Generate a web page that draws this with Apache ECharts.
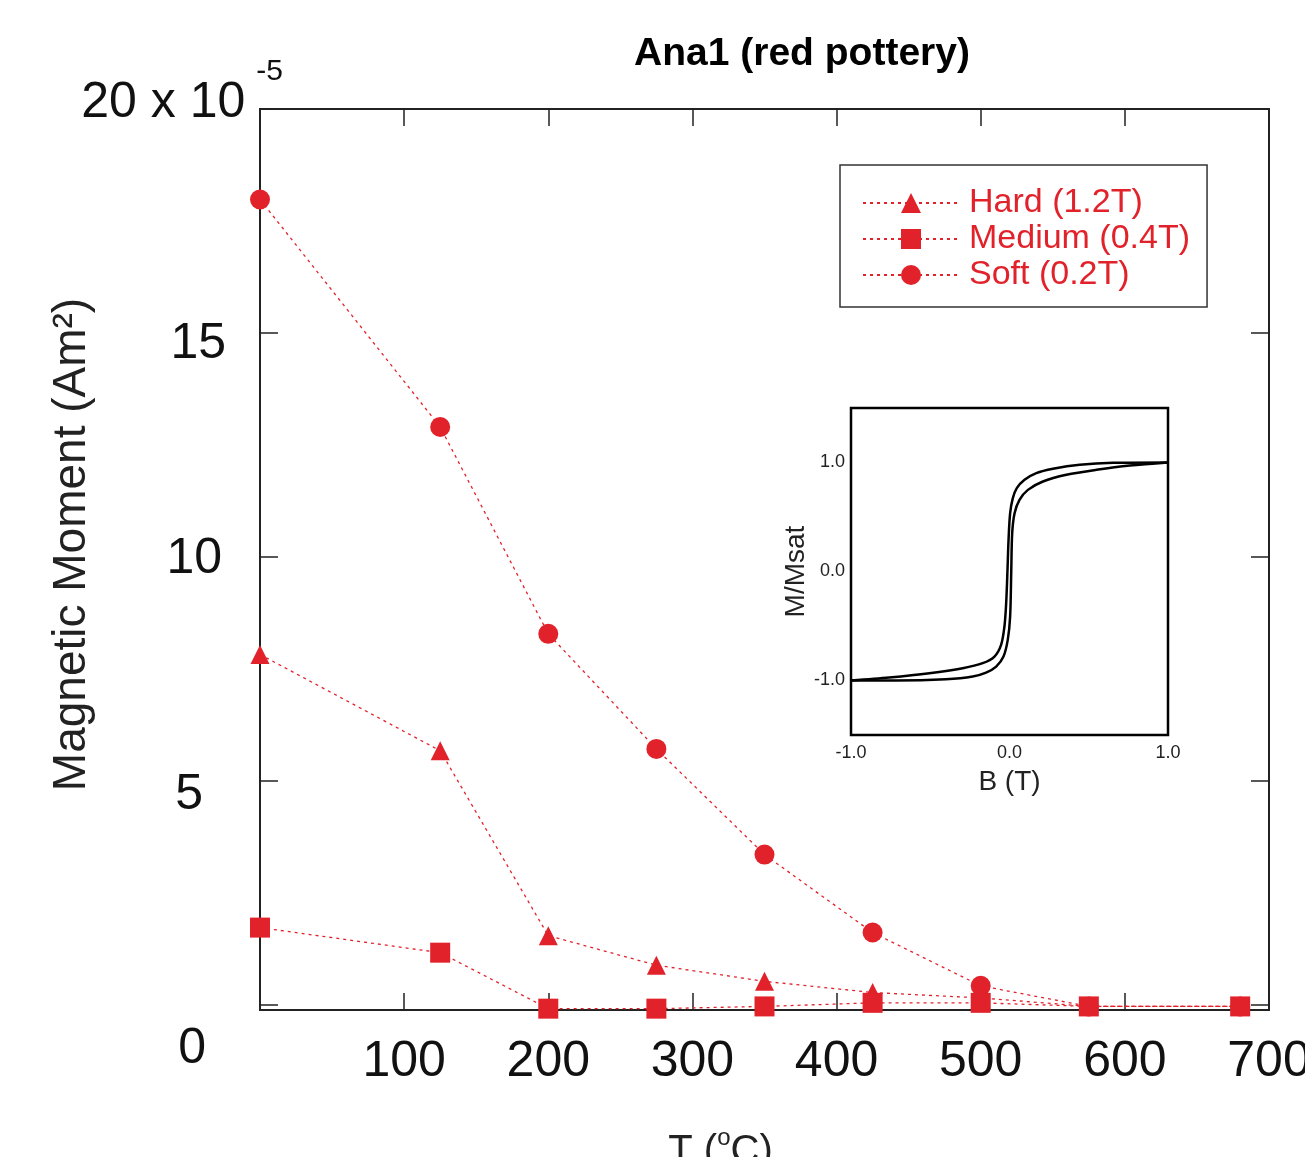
<!DOCTYPE html>
<html>
<head>
<meta charset="utf-8">
<script src="https://cdn.jsdelivr.net/npm/echarts@6/dist/echarts.min.js"></script>
<style>html,body{margin:0;padding:0;background:#fff}#c{width:1305px;height:1157px}</style>
</head>
<body>
<div id="c"></div>
<script>
// Main chart data (temperature in °C, moment in 1e-5 Am^2)
const temps = [0, 125, 200, 275, 350, 425, 500, 575, 680];
const hard = [7.82, 5.67, 1.54, 0.88, 0.52, 0.27, 0.15, -0.04, -0.04];
const medium = [1.72, 1.16, -0.09, -0.09, -0.04, 0.04, 0.04, -0.04, -0.04];
const soft = [17.98, 12.9, 8.28, 5.71, 3.35, 1.61, 0.42, -0.04, -0.04];
const yTicks = [0, 5, 10, 15, 20];
const xLabels = [100, 200, 300, 400, 500, 600, 700];
const xTopTicks = [100, 200, 300, 400, 500, 600];
const seriesNames = ['Hard (1.2T)', 'Medium (0.4T)', 'Soft (0.2T)'];

// Inset hysteresis loop (B in T, M/Msat)
const descB = [1.0, 0.654, 0.443, 0.274, 0.169, 0.095, 0.046, 0.021, 0.004, -0.006, -0.013, -0.021, -0.032, -0.053, -0.095, -0.169, -0.295, -0.506, -0.759, -1.0];
const descM = [1.0, 0.997, 0.979, 0.942, 0.902, 0.841, 0.765, 0.673, 0.535, 0.291, 0.0, -0.291, -0.505, -0.673, -0.780, -0.841, -0.887, -0.933, -0.972, -1.0];
const ascB = [-1.0, -0.717, -0.401, -0.232, -0.148, -0.084, -0.038, -0.011, 0.004, 0.011, 0.017, 0.032, 0.063, 0.116, 0.211, 0.359, 0.549, 0.759, 1.0];
const ascM = [-1.0, -1.0, -0.988, -0.963, -0.927, -0.872, -0.780, -0.627, -0.413, 0.0, 0.352, 0.535, 0.657, 0.749, 0.826, 0.887, 0.933, 0.972, 1.0];
const insetTicks = [-1, 0, 1];

const RED = '#e2222b';
const FONT = '"Liberation Sans", Arial, Helvetica, sans-serif';
const zip = (a, b) => a.map((v, i) => [v, b[i]]);

const chart = echarts.init(document.getElementById('c'), null, { renderer: 'canvas' });

function mainSeries(name, data, symbol, size, z) {
  return {
    name, type: 'line', xAxisIndex: 0, yAxisIndex: 0,
    data: zip(temps, data), symbol, symbolSize: size, z, clip: false,
    itemStyle: { color: RED },
    lineStyle: { color: RED, width: 1.3, type: [3, 4] },
    emphasis: { disabled: true }
  };
}

const option = {
  animation: false,
  backgroundColor: '#fff',
  title: {
    text: 'Ana1 (red pottery)', left: 797, top: 30, textAlign: 'center',
    textStyle: { fontFamily: FONT, fontSize: 39, fontWeight: 'bold', color: '#000' }
  },
  legend: {
    data: seriesNames, orient: 'vertical', left: 840, top: 165,
    padding: [21, 17, 15, 22], itemGap: 2, itemWidth: 96, itemHeight: 25,
    borderColor: '#333', borderWidth: 1.5, backgroundColor: '#fff',
    textStyle: { fontFamily: FONT, fontSize: 34, color: RED, padding: [0, 0, 0, 5] }
  },
  grid: [
    { left: 260, top: 109, right: 36, bottom: 147, outerBoundsMode: 'none', containLabel: false, show: true, borderColor: '#222', borderWidth: 2, backgroundColor: 'transparent' },
    { left: 851, top: 408, width: 317, height: 327, outerBoundsMode: 'none', containLabel: false, show: true, borderColor: '#000', borderWidth: 2.5, backgroundColor: '#fff', z: 5 }
  ],
  xAxis: [
    {
      type: 'value', gridIndex: 0, min: 0, max: 700, position: 'bottom',
      axisLine: { show: false, onZero: false }, splitLine: { show: false },
      axisTick: { inside: true, length: 17, customValues: xTopTicks, lineStyle: { color: '#222', width: 1.5 } },
      axisLabel: { customValues: xLabels, margin: 27, fontFamily: FONT, fontSize: 50, color: '#111' },
      name: '{n|T (}{s|o}{n|C)}', nameLocation: 'middle', nameGap: 116, nameMoveOverlap: false,
      nameTextStyle: {
        padding: [0, 88, 0, 0],
        rich: {
          n: { fontFamily: FONT, fontSize: 40, color: '#222' },
          s: { fontFamily: FONT, fontSize: 24, color: '#222', padding: [0, 0, 28, 0] }
        }
      }
    },
    {
      type: 'value', gridIndex: 0, min: 0, max: 700, position: 'top',
      axisLine: { show: false, onZero: false }, splitLine: { show: false },
      axisTick: { inside: true, length: 17, customValues: xTopTicks, lineStyle: { color: '#222', width: 1.5 } },
      axisLabel: { show: false }
    },
    {
      type: 'value', gridIndex: 1, min: -1, max: 1, interval: 1, position: 'bottom',
      axisLine: { show: false, onZero: false }, splitLine: { show: false },
      axisTick: { inside: true, length: 5, lineStyle: { color: '#000', width: 1.5 } },
      axisLabel: { margin: 9, fontFamily: FONT, fontSize: 18, color: '#222', formatter: v => v.toFixed(1) },
      name: 'B (T)', nameLocation: 'middle', nameGap: 33,
      nameTextStyle: { fontFamily: FONT, fontSize: 28, color: '#222' }
    },
    {
      type: 'value', gridIndex: 1, min: -1, max: 1, interval: 1, position: 'top',
      axisLine: { show: false, onZero: false }, splitLine: { show: false },
      axisTick: { inside: true, length: 5, lineStyle: { color: '#000', width: 1.5 } },
      axisLabel: { show: false }
    }
  ],
  yAxis: [
    {
      type: 'value', gridIndex: 0, min: -0.12, max: 20, position: 'left',
      axisLine: { show: false, onZero: false }, splitLine: { show: false },
      axisTick: { inside: true, length: 18, customValues: yTicks, lineStyle: { color: '#222', width: 1.5 } },
      axisLabel: {
        customValues: yTicks, margin: -25,
        formatter: v => v === 20 ? '{m20|20 x 10}{s|-5}' : '{m' + v + '|' + v + '}',
        rich: {
          m0: { fontFamily: FONT, fontSize: 50, color: '#111', padding: [90, 79, 0, 0] },
          m5: { fontFamily: FONT, fontSize: 50, color: '#111', padding: [28, 82, 0, 0] },
          m10: { fontFamily: FONT, fontSize: 50, color: '#111', padding: [4, 63, 0, 0] },
          m15: { fontFamily: FONT, fontSize: 50, color: '#111', padding: [22, 59, 0, 0] },
          m20: { fontFamily: FONT, fontSize: 50, color: '#111', padding: [0, 0, 12, 0] },
          s: { fontFamily: FONT, fontSize: 30, color: '#111', padding: [0, 2, 74, 11] }
        }
      },
      name: 'Magnetic Moment (Am²)', nameLocation: 'middle', nameGap: 165, nameRotate: 90, nameMoveOverlap: false,
      nameTextStyle: { fontFamily: FONT, fontSize: 46, color: '#222', padding: [0, 0, 0, 30] }
    },
    {
      type: 'value', gridIndex: 0, min: -0.12, max: 20, position: 'right',
      axisLine: { show: false, onZero: false }, splitLine: { show: false },
      axisTick: { inside: true, length: 18, customValues: [0, 5, 10, 15], lineStyle: { color: '#222', width: 1.5 } },
      axisLabel: { show: false }
    },
    {
      type: 'value', gridIndex: 1, min: -1.5, max: 1.5, position: 'left',
      axisLine: { show: false, onZero: false }, splitLine: { show: false },
      axisTick: { inside: true, length: 5, customValues: insetTicks, lineStyle: { color: '#000', width: 1.5 } },
      axisLabel: { customValues: insetTicks, margin: 6, fontFamily: FONT, fontSize: 18, color: '#222', formatter: v => v.toFixed(1) },
      name: 'M/Msat', nameLocation: 'middle', nameGap: 39, nameRotate: 90,
      nameTextStyle: { fontFamily: FONT, fontSize: 28, color: '#222' }
    },
    {
      type: 'value', gridIndex: 1, min: -1.5, max: 1.5, position: 'right',
      axisLine: { show: false, onZero: false }, splitLine: { show: false },
      axisTick: { inside: true, length: 5, customValues: insetTicks, lineStyle: { color: '#000', width: 1.5 } },
      axisLabel: { show: false }
    }
  ],
  series: [
    mainSeries(seriesNames[0], hard, 'triangle', 19, 2),
    mainSeries(seriesNames[2], soft, 'circle', 20, 3),
    mainSeries(seriesNames[1], medium, 'rect', 20, 4),
    {
      type: 'line', xAxisIndex: 2, yAxisIndex: 2, data: zip(descB, descM), smooth: 0.3,
      symbol: 'none', lineStyle: { color: '#000', width: 2.5 }, z: 6, emphasis: { disabled: true }
    },
    {
      type: 'line', xAxisIndex: 2, yAxisIndex: 2, data: zip(ascB, ascM), smooth: 0.3,
      symbol: 'none', lineStyle: { color: '#000', width: 2.5 }, z: 6, emphasis: { disabled: true }
    }
  ]
};
chart.setOption(option);
</script>
</body>
</html>
